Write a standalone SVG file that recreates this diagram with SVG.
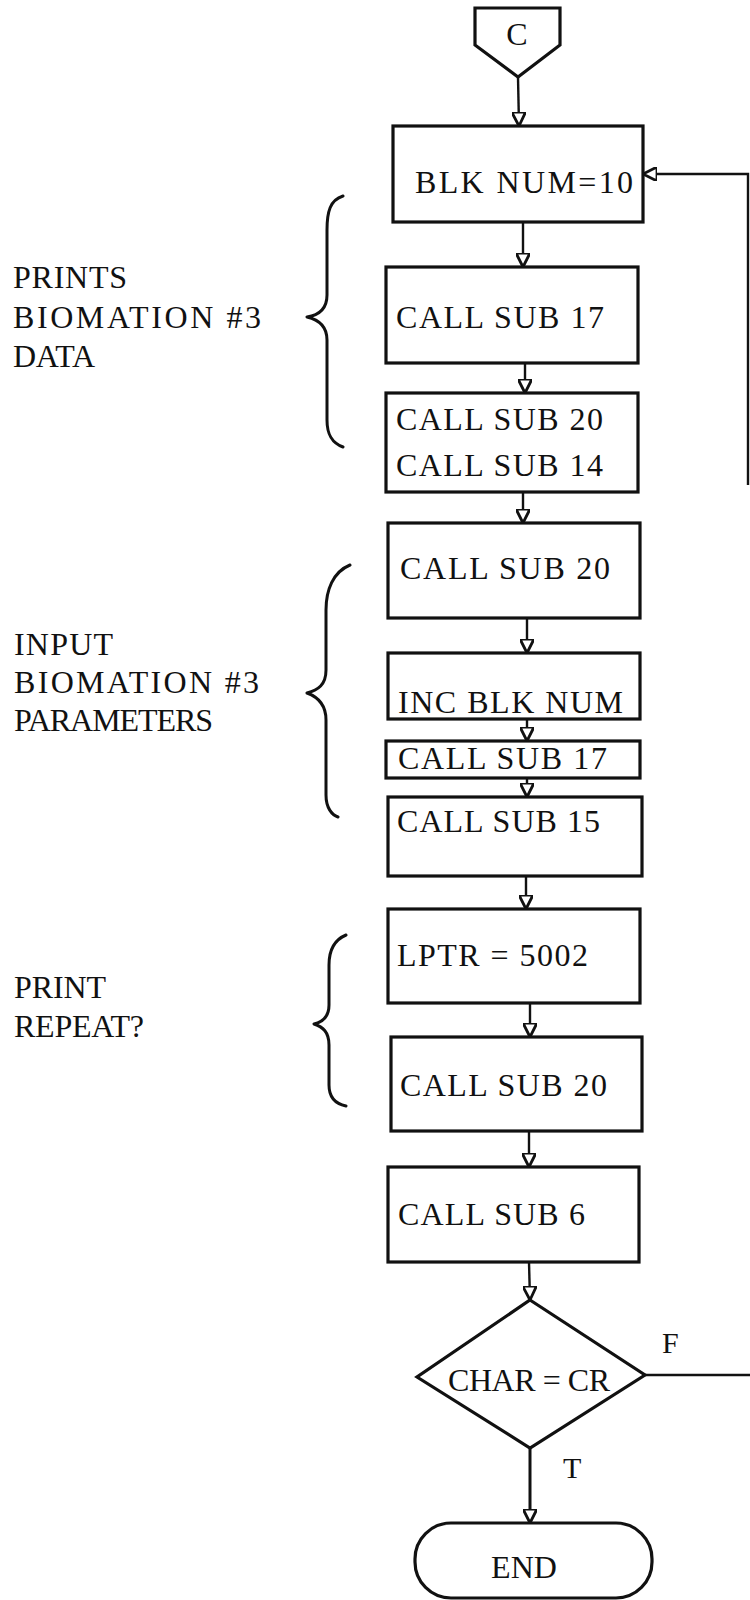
<svg xmlns="http://www.w3.org/2000/svg" width="750" height="1600" viewBox="0 0 750 1600">
<defs>
<style>
.box{fill:#fff;stroke:#111;stroke-width:3.2}
.ln{fill:none;stroke:#111;stroke-width:2.4}
.br{fill:none;stroke:#111;stroke-width:3;stroke-linecap:round;stroke-linejoin:round}
.t{font-family:"Liberation Serif","Times New Roman",serif;font-size:32px;fill:#111}
.lb{font-family:"Liberation Serif","Times New Roman",serif;font-size:32px;fill:#111}
</style>
<marker id="ah" viewBox="0 0 10 10" refX="10" refY="5" markerWidth="14" markerHeight="14" markerUnits="userSpaceOnUse" orient="auto">
<path d="M0,0 L10,5 L0,10 Z" fill="#fff" stroke="#111" stroke-width="2"/>
</marker>
</defs>
<rect width="750" height="1600" fill="#fff"/>

<g id="connectors">
<line class="ln" x1="518" y1="77" x2="519" y2="126" marker-end="url(#ah)"/>
<line class="ln" x1="523" y1="222" x2="523" y2="267" marker-end="url(#ah)"/>
<line class="ln" x1="525" y1="363" x2="525" y2="393" marker-end="url(#ah)"/>
<line class="ln" x1="523" y1="492" x2="523" y2="523" marker-end="url(#ah)"/>
<line class="ln" x1="527" y1="618" x2="527" y2="653" marker-end="url(#ah)"/>
<line class="ln" x1="527" y1="719" x2="527" y2="741" marker-end="url(#ah)"/>
<line class="ln" x1="527" y1="778" x2="527" y2="797" marker-end="url(#ah)"/>
<line class="ln" x1="526" y1="876" x2="526" y2="909" marker-end="url(#ah)"/>
<line class="ln" x1="530" y1="1003" x2="530" y2="1037" marker-end="url(#ah)"/>
<line class="ln" x1="529" y1="1131" x2="529" y2="1167" marker-end="url(#ah)"/>
<line class="ln" x1="529" y1="1262" x2="530" y2="1300" marker-end="url(#ah)"/>
<line class="ln" x1="530" y1="1448" x2="530" y2="1523" marker-end="url(#ah)" style="stroke-width:3"/>
<line class="ln" x1="645" y1="1375" x2="750" y2="1375"/>
<polyline class="ln" points="748,485 748,174 643,174" marker-end="url(#ah)"/>
<text class="t" x="662" y="1353" style="font-size:30px">F</text>
<text class="t" x="563" y="1478" style="font-size:30px">T</text>
</g>

<g id="start">
<path class="box" d="M475,8 L560,8 L560,45 L518,77 L475,45 Z"/>
<text class="t" x="517" y="45" text-anchor="middle">C</text>
</g>

<g id="n1">
<rect class="box" x="393" y="126" width="250" height="96"/>
<text class="t" x="415" y="193" textLength="218" lengthAdjust="spacing">BLK NUM=10</text>
</g>

<g id="n2">
<rect class="box" x="386" y="267" width="252" height="96"/>
<text class="t" x="396" y="328" textLength="208" lengthAdjust="spacing">CALL SUB 17</text>
</g>

<g id="n3">
<rect class="box" x="386" y="393" width="252" height="99"/>
<text class="t" x="396" y="430" textLength="207" lengthAdjust="spacing">CALL SUB 20</text>
<text class="t" x="396" y="476" textLength="207" lengthAdjust="spacing">CALL SUB 14</text>
</g>

<g id="n4">
<rect class="box" x="388" y="523" width="252" height="95"/>
<text class="t" x="400" y="579" textLength="210" lengthAdjust="spacing">CALL SUB 20</text>
</g>

<g id="n5">
<rect class="box" x="388" y="653" width="252" height="66"/>
<text class="t" x="398" y="713" textLength="225" lengthAdjust="spacing">INC BLK NUM</text>
</g>

<g id="n6">
<rect class="box" x="386" y="741" width="254" height="37"/>
<text class="t" x="398" y="769" textLength="209" lengthAdjust="spacing">CALL SUB 17</text>
</g>

<g id="n7">
<rect class="box" x="388" y="797" width="254" height="79"/>
<text class="t" x="397" y="832" textLength="203" lengthAdjust="spacing">CALL SUB 15</text>
</g>

<g id="n8">
<rect class="box" x="388" y="909" width="252" height="94"/>
<text class="t" x="397" y="966" textLength="191" lengthAdjust="spacing">LPTR = 5002</text>
</g>

<g id="n9">
<rect class="box" x="391" y="1037" width="251" height="94"/>
<text class="t" x="400" y="1096" textLength="207" lengthAdjust="spacing">CALL SUB 20</text>
</g>

<g id="n10">
<rect class="box" x="388" y="1167" width="251" height="95"/>
<text class="t" x="398" y="1225" textLength="187" lengthAdjust="spacing">CALL SUB 6</text>
</g>

<g id="decision">
<path class="box" d="M530,1300 L645,1375 L530,1448 L417,1377 Z"/>
<text class="t" x="448" y="1391" textLength="162" lengthAdjust="spacing">CHAR = CR</text>
</g>

<g id="end">
<rect class="box" x="415" y="1523" width="237" height="75" rx="36" ry="36"/>
<text class="t" x="524" y="1578" text-anchor="middle">END</text>
</g>

<g id="annot1">
<path class="br" d="M343,196 C330,200 327,212 327,230 L327,295 C327,308 320,315 307,317 C320,320 327,327 327,340 L327,420 C327,435 332,443 343,447"/>
<text class="lb" x="13" y="288" textLength="114" lengthAdjust="spacing">PRINTS</text>
<text class="lb" x="13" y="328" textLength="248" lengthAdjust="spacing">BIOMATION  #3</text>
<text class="lb" x="13" y="367" textLength="82" lengthAdjust="spacing">DATA</text>
</g>

<g id="annot2">
<path class="br" d="M350,565 C333,572 326,590 326,610 L326,670 C326,685 318,690 307,693 C318,697 326,705 326,720 L326,795 C326,808 332,815 338,817"/>
<text class="lb" x="14" y="655" textLength="99" lengthAdjust="spacing">INPUT</text>
<text class="lb" x="14" y="693" textLength="245" lengthAdjust="spacing">BIOMATION  #3</text>
<text class="lb" x="14" y="731" textLength="199" lengthAdjust="spacing">PARAMETERS</text>
</g>

<g id="annot3">
<path class="br" d="M346,935 C334,940 329,950 329,965 L329,1005 C329,1017 323,1022 314,1024 C323,1027 329,1032 329,1045 L329,1085 C329,1098 336,1104 346,1106"/>
<text class="lb" x="14" y="998" textLength="92" lengthAdjust="spacing">PRINT</text>
<text class="lb" x="14" y="1037" textLength="130" lengthAdjust="spacing">REPEAT?</text>
</g>
</svg>
